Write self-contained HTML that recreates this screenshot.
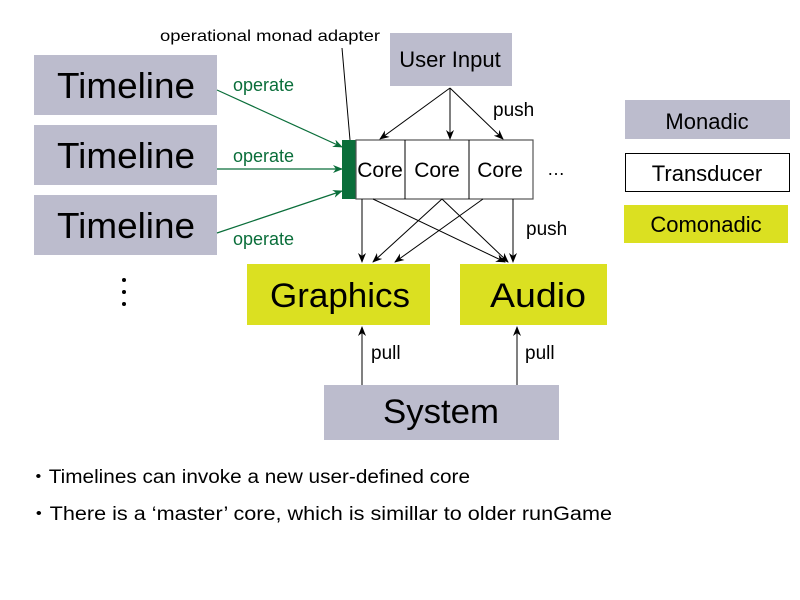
<!DOCTYPE html>
<html><head><meta charset="utf-8"><style>
html,body{margin:0;padding:0;background:#fff;width:800px;height:600px;overflow:hidden}
svg text{font-family:"Liberation Sans",sans-serif}
</style></head><body>
<svg width="800" height="600" viewBox="0 0 800 600" xmlns="http://www.w3.org/2000/svg">
<defs>
<marker id="ak" markerWidth="10" markerHeight="8" refX="9" refY="4" orient="auto" markerUnits="userSpaceOnUse"><path d="M0,0 L10,4 L0,8 L3,4z" fill="#000"/></marker>
<marker id="ag" markerWidth="10" markerHeight="8" refX="9" refY="4" orient="auto" markerUnits="userSpaceOnUse"><path d="M0,0 L10,4 L0,8 L3,4z" fill="#0a6e3a"/></marker>
</defs>
<!-- Timelines -->
<rect x="34" y="55" width="183" height="60" fill="#bcbccd"/>
<rect x="34" y="125" width="183" height="60" fill="#bcbccd"/>
<rect x="34" y="195" width="183" height="60" fill="#bcbccd"/>
<g font-size="36" text-anchor="middle" fill="#000" textLength="138">
<text x="126" y="98" textLength="138" lengthAdjust="spacingAndGlyphs">Timeline</text>
<text x="126" y="168" textLength="138" lengthAdjust="spacingAndGlyphs">Timeline</text>
<text x="126" y="238" textLength="138" lengthAdjust="spacingAndGlyphs">Timeline</text>
</g>
<circle cx="124" cy="280" r="2" fill="#000"/><circle cx="124" cy="292" r="2" fill="#000"/><circle cx="124" cy="304" r="2" fill="#000"/>
<!-- operate arrows -->
<g stroke="#0a6e3a" stroke-width="1.2" fill="none">
<line x1="217" y1="90" x2="342" y2="147" marker-end="url(#ag)"/>
<line x1="217" y1="169" x2="342" y2="169" marker-end="url(#ag)"/>
<line x1="217" y1="233" x2="342" y2="191" marker-end="url(#ag)"/>
</g>
<g font-size="18" fill="#0a6e3a">
<text x="233" y="91">operate</text>
<text x="233" y="162">operate</text>
<text x="233" y="245">operate</text>
</g>
<text x="160" y="41" font-size="16" fill="#000" textLength="220" lengthAdjust="spacingAndGlyphs">operational monad adapter</text>
<line x1="342" y1="48" x2="350" y2="140" stroke="#000" stroke-width="1"/>
<!-- cores -->
<rect x="342" y="140" width="14" height="59" fill="#0a6e3a"/>
<rect x="356" y="140" width="177" height="59" fill="#fff" stroke="#555" stroke-width="1.2"/>
<line x1="405" y1="140" x2="405" y2="199" stroke="#000"/>
<line x1="469" y1="140" x2="469" y2="199" stroke="#000"/>
<g font-size="21" text-anchor="middle">
<text x="380" y="177">Core</text><text x="437" y="177">Core</text><text x="500" y="177">Core</text>
</g>
<text x="556" y="175" font-size="18" text-anchor="middle">…</text>
<!-- User input -->
<rect x="390" y="33" width="122" height="53" fill="#bcbccd"/>
<text x="450" y="67" font-size="22" text-anchor="middle">User Input</text>
<g stroke="#000" stroke-width="1" fill="none">
<line x1="450" y1="88" x2="380" y2="139" marker-end="url(#ak)"/>
<line x1="450" y1="88" x2="450" y2="139" marker-end="url(#ak)"/>
<line x1="450" y1="88" x2="503" y2="139" marker-end="url(#ak)"/>
</g>
<text x="493" y="116" font-size="19">push</text>
<!-- lower arrows -->
<g stroke="#000" stroke-width="1" fill="none">
<line x1="362" y1="199" x2="362" y2="262" marker-end="url(#ak)"/>
<line x1="373" y1="199" x2="505" y2="262" marker-end="url(#ak)"/>
<line x1="442" y1="199" x2="373" y2="262" marker-end="url(#ak)"/>
<line x1="442" y1="199" x2="508" y2="262" marker-end="url(#ak)"/>
<line x1="483" y1="199" x2="395" y2="262" marker-end="url(#ak)"/>
<line x1="513" y1="199" x2="513" y2="262" marker-end="url(#ak)"/>
</g>
<text x="526" y="235" font-size="19">push</text>
<!-- Graphics / Audio -->
<rect x="247" y="264" width="183" height="61" fill="#dbe021"/>
<rect x="460" y="264" width="147" height="61" fill="#dbe021"/>
<text x="340" y="307" font-size="34" text-anchor="middle" textLength="140" lengthAdjust="spacingAndGlyphs">Graphics</text>
<text x="538" y="307" font-size="34" text-anchor="middle" textLength="96" lengthAdjust="spacingAndGlyphs">Audio</text>
<!-- System -->
<rect x="324" y="385" width="235" height="55" fill="#bcbccd"/>
<text x="441" y="423" font-size="34" text-anchor="middle" textLength="116" lengthAdjust="spacingAndGlyphs">System</text>
<g stroke="#000" stroke-width="1">
<line x1="362" y1="385" x2="362" y2="327" marker-end="url(#ak)"/>
<line x1="517" y1="385" x2="517" y2="327" marker-end="url(#ak)"/>
</g>
<text x="371" y="359" font-size="19">pull</text>
<text x="525" y="359" font-size="19">pull</text>
<!-- legend -->
<rect x="625" y="100" width="165" height="39" fill="#bcbccd"/>
<rect x="625.5" y="153.5" width="164" height="38" fill="#fff" stroke="#000" stroke-width="1"/>
<rect x="624" y="205" width="164" height="38" fill="#dbe021"/>
<g font-size="22" text-anchor="middle">
<text x="707" y="129">Monadic</text>
<text x="707" y="181">Transducer</text>
<text x="706" y="232">Comonadic</text>
</g>
<!-- notes -->
<g font-size="19">
<text x="28" y="483" textLength="442" lengthAdjust="spacingAndGlyphs">・Timelines can invoke a new user-defined core</text>
<text x="28" y="520" textLength="584" lengthAdjust="spacingAndGlyphs">・There is a ‘master’ core, which is simillar to older runGame</text>
</g>
</svg>
</body></html>
